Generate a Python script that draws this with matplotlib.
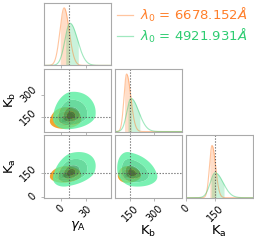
import numpy as np
import matplotlib
matplotlib.use("Agg")
import matplotlib.pyplot as plt
from matplotlib.lines import Line2D

# ---------------- data ----------------
param_labels = [r"$\gamma_\mathrm{A}$", r"$\mathrm{K}_\mathrm{b}$", r"$\mathrm{K}_\mathrm{a}$"]
truth = [10, 150, 150]
chain_names = [r"$\lambda_0$ = 6678.152$\AA$", r"$\lambda_0$ = 4921.931$\AA$"]
chain_colors = ["#FF7F2A", "#2ECC71"]

# chain 1 (orange): mode, lower / upper widths, pair correlations (01, 02, 12)
orange_mode = [4, 128, 134]
orange_sig_lo = [5, 16, 13]
orange_sig_hi = [6, 26, 18]
orange_rho = [0.10, 0.10, 0.00]

# chain 2 (green)
green_mode = [11, 155, 150]
green_sig_lo = [6, 25, 25]
green_sig_hi = [9, 48, 40]
green_rho = [0.15, 0.35, -0.25]

axis_ranges = [(-20, 60), (55, 470), (-6, 395)]
diag_ka_range = (0, 340)
xticks = [[0, 30], [150, 300], [0, 150]]
yticks = [None, [150, 300], [0, 150]]

contour_radii = [0.0, 0.7, 1.3, 2.3, 3.4]
orange_shades = ["#9a4a12", "#cf6a1c", "#e88a2a", "#f3a52f"]
green_shades = ["#1f6e3c", "#2fa35e", "#3fd083", "#55ee9e"]

# ---------------------------------------------------------------
chains = [
    dict(mode=orange_mode, lo=orange_sig_lo, hi=orange_sig_hi, rho=orange_rho, shades=orange_shades, alpha=1.0),
    dict(mode=green_mode, lo=green_sig_lo, hi=green_sig_hi, rho=green_rho, shades=green_shades, alpha=0.78),
]
pair_index = {(0, 1): 0, (0, 2): 1, (1, 2): 2}


def zscore(x, m, sl, sh):
    return np.where(x < m, (x - m) / sl, (x - m) / sh)


def marginal(x, m, sl, sh):
    z = zscore(x, m, sl, sh)
    return 2.0 / (np.sqrt(2 * np.pi) * (sl + sh)) * np.exp(-0.5 * z ** 2)


fig = plt.figure(figsize=(2.55, 2.41), dpi=100)
gs = fig.add_gridspec(3, 3, left=44 / 255, right=252.7 / 255,
                      bottom=1 - 197.7 / 241, top=1 - 2.7 / 241,
                      wspace=0.055, hspace=0.055)

spine_col = "#aaaaaa"
headroom = [1.09, 1.09, 1.2]

for i in range(3):
    for j in range(3):
        if j > i:
            continue
        ax = fig.add_subplot(gs[i, j])
        for s in ax.spines.values():
            s.set_color(spine_col)
            s.set_linewidth(0.8)
        ax.tick_params(colors=spine_col, labelcolor="black", length=2.5, width=0.6,
                       labelsize=7, pad=1.5)
        if i == j:
            xr = diag_ka_range if i == 2 else axis_ranges[i]
            x = np.linspace(xr[0], xr[1], 600)
            peak = 0
            for c, col in zip(chains, chain_colors):
                p = marginal(x, c["mode"][i], c["lo"][i], c["hi"][i])
                peak = max(peak, p.max())
                cdf = np.cumsum(p)
                cdf /= cdf[-1]
                lo_q = np.interp(0.16, cdf, x)
                hi_q = np.interp(0.84, cdf, x)
                ax.plot(x, p, color=col, lw=0.8, alpha=0.45)
                m = (x >= lo_q) & (x <= hi_q)
                ax.fill_between(x[m], 0, p[m], color=col, alpha=0.25, lw=0)
            ax.set_xlim(*xr)
            ax.set_ylim(0, peak * headroom[i])
            ax.axvline(truth[i], color="#555555", ls=":", lw=0.8)
            ax.set_yticks([])
        else:
            xr, yr = axis_ranges[j], axis_ranges[i]
            gx = np.linspace(xr[0], xr[1], 300)
            gy = np.linspace(yr[0], yr[1], 300)
            X, Y = np.meshgrid(gx, gy)
            for c in chains:
                rho = c["rho"][pair_index[(j, i)]]
                z1 = zscore(X, c["mode"][j], c["lo"][j], c["hi"][j])
                z2 = zscore(Y, c["mode"][i], c["lo"][i], c["hi"][i])
                d = np.sqrt((z1 ** 2 - 2 * rho * z1 * z2 + z2 ** 2) / (1 - rho ** 2))
                ax.contourf(X, Y, d, levels=contour_radii, colors=c["shades"],
                            alpha=c["alpha"], antialiased=True)
            ax.set_xlim(*xr)
            ax.set_ylim(*yr)
            ax.axvline(truth[j], color="#555555", ls=":", lw=0.8)
            ax.axhline(truth[i], color="#555555", ls=":", lw=0.8)
            if j == 0:
                ax.set_yticks(yticks[i])
                ax.set_yticklabels([str(t) for t in yticks[i]], rotation=45, va="center")
                ax.set_ylabel(param_labels[i], fontsize=9.5, labelpad=0)
            else:
                ax.set_yticks([])
        ax.set_xticks(xticks[j])
        if i == 2:
            ax.set_xticklabels([str(t) for t in xticks[j]], rotation=45)
            ax.set_xlabel(param_labels[j], fontsize=9.5, labelpad=0)
        else:
            ax.set_xticklabels([])

handles = [Line2D([], [], color=c, lw=0.9, alpha=0.45) for c in chain_colors]
leg = fig.legend(handles, chain_names, loc="upper right", bbox_to_anchor=(1.0, 1.01),
                 frameon=False, fontsize=9.5, handlelength=1.2, handletextpad=0.5,
                 labelspacing=0.25, borderaxespad=0.2)
for t, c in zip(leg.get_texts(), chain_colors):
    t.set_color(c)

fig.savefig("out.png", dpi=100)
